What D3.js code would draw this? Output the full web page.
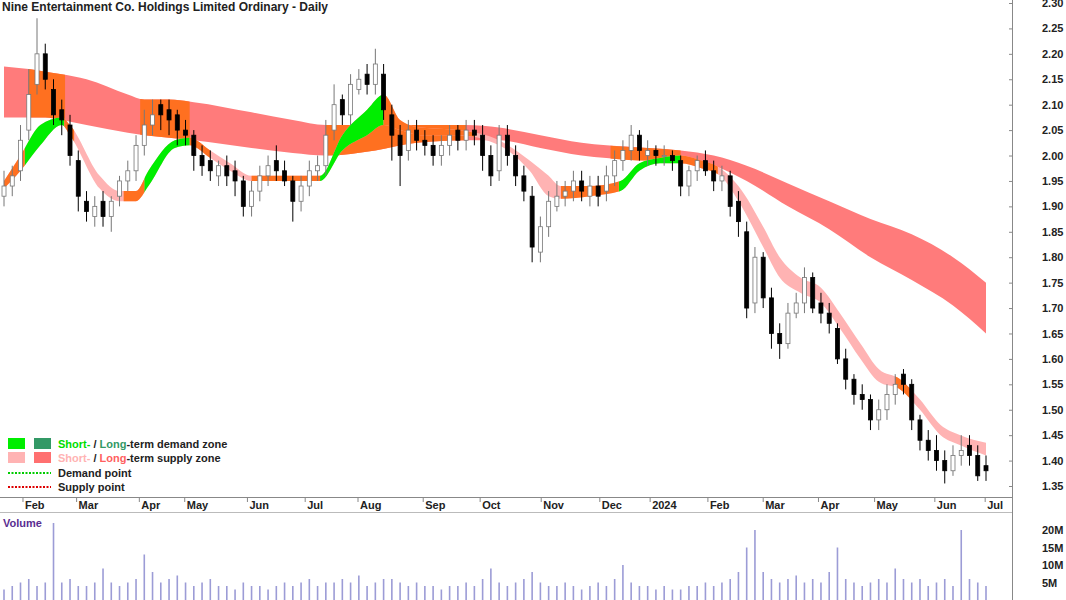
<!DOCTYPE html>
<html><head><meta charset="utf-8">
<script src="https://cdn.jsdelivr.net/npm/d3@7"></script>
<style>body{margin:0;background:#fff}text{font-family:"Liberation Sans",Arial,sans-serif}</style>
</head><body><svg id="c" width="1066" height="600"></svg>
<script>
const opens=[1.92,1.94,1.97,2.05,2.14,2.20,2.13,2.09,2.06,1.99,1.91,1.88,1.91,1.88,1.92,1.95,1.97,2.02,2.06,2.10,2.09,2.08,2.05,2.04,2.00,1.99,1.96,1.98,1.97,1.95,1.90,1.93,1.96,1.99,1.97,1.95,1.91,1.94,1.97,1.98,2.05,2.11,2.08,2.13,2.16,2.14,2.16,2.08,2.04,2.01,2.05,2.03,2.02,2.00,2.02,2.05,2.03,2.05,2.04,2.00,1.97,2.04,2.00,1.96,1.92,1.81,1.86,1.90,1.92,1.93,1.95,1.92,1.94,1.93,1.96,1.99,2.01,2.04,2.00,2.01,2.00,2.00,1.99,1.94,1.97,1.99,1.97,1.95,1.96,1.91,1.85,1.71,1.80,1.72,1.65,1.63,1.69,1.71,1.76,1.71,1.69,1.66,1.60,1.56,1.53,1.52,1.48,1.50,1.53,1.57,1.55,1.48,1.44,1.42,1.40,1.38,1.41,1.43,1.41,1.39];
const closes=[1.94,1.96,2.03,2.12,2.20,2.15,2.08,2.07,2.00,1.92,1.89,1.90,1.88,1.91,1.95,1.97,2.02,2.06,2.08,2.08,2.07,2.05,2.04,2.00,1.98,1.97,1.98,1.96,1.95,1.90,1.93,1.96,1.98,1.97,1.95,1.91,1.94,1.97,1.98,2.04,2.10,2.08,2.14,2.15,2.14,2.18,2.09,2.04,2.00,2.05,2.03,2.02,2.00,2.02,2.04,2.03,2.05,2.04,2.00,1.96,2.04,2.00,1.96,1.93,1.82,1.86,1.91,1.92,1.93,1.95,1.93,1.94,1.92,1.96,1.99,2.01,2.04,2.01,2.01,2.00,2.00,1.99,1.94,1.97,1.99,1.97,1.95,1.96,1.90,1.87,1.70,1.80,1.72,1.65,1.63,1.69,1.71,1.76,1.70,1.69,1.67,1.60,1.56,1.53,1.52,1.48,1.50,1.53,1.55,1.55,1.48,1.44,1.42,1.40,1.38,1.41,1.42,1.41,1.37,1.38];
const highs=[1.97,1.98,2.06,2.17,2.27,2.22,2.15,2.11,2.08,2.01,1.93,1.92,1.93,1.92,1.96,1.99,2.04,2.09,2.11,2.11,2.11,2.09,2.07,2.05,2.02,2.01,1.99,2.00,1.99,1.96,1.95,1.98,2.00,2.02,1.99,1.96,1.96,1.99,2.00,2.07,2.14,2.12,2.16,2.17,2.18,2.21,2.18,2.10,2.06,2.07,2.07,2.05,2.04,2.04,2.06,2.06,2.07,2.07,2.06,2.02,2.06,2.06,2.02,1.98,1.94,1.88,1.93,1.95,1.95,1.97,1.97,1.96,1.96,1.98,2.01,2.03,2.06,2.05,2.03,2.02,2.02,2.01,2.00,1.98,2.00,2.01,1.99,1.98,1.97,1.93,1.87,1.82,1.81,1.74,1.67,1.71,1.73,1.78,1.77,1.73,1.71,1.67,1.62,1.57,1.55,1.53,1.52,1.55,1.57,1.58,1.56,1.49,1.46,1.45,1.42,1.43,1.45,1.45,1.43,1.41];
const lows=[1.90,1.92,1.95,2.03,2.12,2.13,2.06,2.04,1.98,1.89,1.87,1.86,1.86,1.85,1.90,1.93,1.95,2.00,2.04,2.05,2.04,2.02,2.02,1.97,1.96,1.95,1.94,1.94,1.92,1.88,1.88,1.91,1.94,1.95,1.94,1.87,1.89,1.92,1.95,1.96,2.03,2.06,2.06,2.12,2.12,2.12,2.07,1.99,1.94,1.99,2.01,2.00,1.98,1.98,2.00,2.01,2.01,2.02,1.97,1.94,1.95,1.98,1.94,1.91,1.79,1.79,1.84,1.89,1.90,1.91,1.91,1.90,1.90,1.91,1.94,1.97,1.99,1.99,1.98,1.98,1.98,1.97,1.92,1.92,1.95,1.96,1.93,1.93,1.88,1.84,1.68,1.69,1.70,1.62,1.60,1.62,1.68,1.69,1.69,1.67,1.65,1.59,1.54,1.51,1.50,1.46,1.46,1.48,1.51,1.53,1.46,1.42,1.40,1.38,1.355,1.37,1.39,1.39,1.36,1.36];
const volumes=[3,4,5,6,4,5,22,5,6,4,4,5,9,5,4,5,6,13,8,5,6,7,5,4,5,6,4,4,3,5,4,4,3,4,5,4,5,6,4,5,5,6,5,7,4,5,6,6,5,4,5,4,4,3,4,4,5,4,6,9,5,4,5,6,8,5,4,4,5,4,3,4,5,4,6,10,5,4,4,3,4,3,3,4,4,5,4,5,6,8,15,20,8,6,5,6,7,5,6,5,8,15,6,5,4,5,6,5,9,6,5,6,4,5,6,4,20,6,5,4];
const monthLabels=["Feb","Mar","Apr","May","Jun","Jul","Aug","Sep","Oct","Nov","Dec","2024","Feb","Mar","Apr","May","Jun","Jul"];
const monthIdx=[2.3,8.8,16.4,21.9,29.5,36.5,42.9,50.8,57.7,65.1,72.2,78.3,85.3,92,98.7,105.5,112.8,118.9];
const priceTicks=[1.35,1.40,1.45,1.50,1.55,1.60,1.65,1.70,1.75,1.80,1.85,1.90,1.95,2.00,2.05,2.10,2.15,2.20,2.25,2.30];
const volTicks=[5,10,15,20];
const longIdx=[0,3,5,7,10,15,17,20,23,30,35,39,45,50,56,60,65,70,73,78,82,86,90,95,100,105,110,115,119];
const longUp=[2.175,2.17,2.165,2.16,2.15,2.12,2.11,2.11,2.105,2.085,2.07,2.06,2.06,2.06,2.06,2.055,2.04,2.025,2.02,2.015,2.01,2.0,1.98,1.945,1.91,1.875,1.845,1.80,1.75];
const longLo=[2.075,2.075,2.075,2.07,2.06,2.045,2.04,2.035,2.03,2.015,2.005,2.0,2.01,2.025,2.03,2.03,2.015,2.0,1.995,1.99,1.99,1.98,1.95,1.90,1.855,1.80,1.755,1.705,1.65];
const longOrange=[[3,7.4],[16.5,22.5],[39,56],[73.5,82]];
const shortIdx=[0,2,4.4,7,8,11.6,14,16,17.5,20.7,22.5,25,27.4,30,34,38.3,41,44,46,48,50.5,55,60,63.7,66,67.4,71,74.7,77,79.5,82,84.5,86.8,89,92,94,96.5,99,101.3,103.8,106,108.6,111,113.5,115.9,119];
const shortUp=[1.95,2.0,2.06,2.075,2.06,1.96,1.93,1.93,1.97,2.03,2.035,2.01,1.985,1.96,1.96,1.96,2.04,2.09,2.12,2.07,2.055,2.05,2.03,1.99,1.96,1.94,1.94,1.95,1.985,1.995,2.0,1.99,1.975,1.94,1.86,1.80,1.76,1.74,1.69,1.63,1.58,1.56,1.52,1.47,1.45,1.435];
const shortLo=[1.935,1.97,2.02,2.06,2.04,1.935,1.91,1.91,1.94,2.015,2.02,1.995,1.97,1.95,1.95,1.95,2.01,2.04,2.06,2.05,2.04,2.04,2.02,1.97,1.92,1.915,1.92,1.93,1.97,1.985,1.985,1.975,1.96,1.91,1.82,1.76,1.73,1.71,1.66,1.60,1.555,1.54,1.50,1.45,1.43,1.41];
const shortGreen=[[2.5,7.3],[17,22.5],[38.3,46],[74.5,82]];
const shortOrange=[[0,2.5],[7.3,8.5],[14.5,17],[22.5,25],[30,38.3],[46,57],[67.5,74.5],[82,86.5],[108,110]];

const svg=d3.select("#c");
const x=d3.scaleLinear().domain([0,119]).range([4,986]);
const y=d3.scaleLinear().domain([1.35,2.30]).range([486,3]);
const yv=d3.scaleLinear().domain([0,20]).range([600,530]);
const defs=svg.append("defs");
function clipFor(id,ranges){const c=defs.append("clipPath").attr("id",id);
  ranges.forEach(r=>c.append("rect").attr("x",x(r[0])).attr("width",x(r[1])-x(r[0])).attr("y",0).attr("height",500));return `url(#${id})`;}
const longData=longIdx.map((v,k)=>({i:v,u:longUp[k],l:longLo[k]}));
const shortData=shortIdx.map((v,k)=>({i:v,u:shortUp[k],l:shortLo[k]}));
const area=d3.area().curve(d3.curveMonotoneX).x(d=>x(d.i)).y0(d=>y(d.l)).y1(d=>y(d.u));
const g=svg.append("g");
g.append("path").attr("d",area(longData)).attr("fill","#ff7b7b");
g.append("path").attr("d",area(longData)).attr("fill","#ff7020").attr("clip-path",clipFor("lo",longOrange));
g.append("path").attr("d",area(shortData)).attr("fill","#ffb3b3");
g.append("path").attr("d",area(shortData)).attr("fill","#00ee00").attr("clip-path",clipFor("sg",shortGreen));
g.append("path").attr("d",area(shortData)).attr("fill","#ff7020").attr("clip-path",clipFor("so",shortOrange));
// candles
const cd=closes.map((c,i)=>({i,o:opens[i],c,h:highs[i],l:lows[i]}));
const cg=svg.append("g");
cd.forEach(d=>{
  const up=d.c>=d.o;
  cg.append("line").attr("x1",x(d.i)).attr("x2",x(d.i)).attr("y1",y(d.h)).attr("y2",y(d.l)).attr("stroke",up?"#777":"#000").attr("stroke-width",1);
  const t=y(Math.max(d.o,d.c)),b=y(Math.min(d.o,d.c));
  cg.append("rect").attr("x",x(d.i)-2).attr("width",4).attr("y",t).attr("height",Math.max(1,b-t))
    .attr("fill",up?"#fff":"#000").attr("stroke",up?"#777":"#000").attr("stroke-width",0.8);
});
// volume
svg.append("g").selectAll("rect").data(volumes.slice(0,120)).join("rect")
  .attr("x",(d,i)=>x(i)-0.8).attr("width",1.6).attr("y",d=>yv(d)).attr("height",d=>600-yv(d)).attr("fill","#9c9cd6");
// frame lines
svg.append("line").attr("x1",0).attr("x2",1012).attr("y1",497.5).attr("y2",497.5).attr("stroke","#888");
svg.append("line").attr("x1",0).attr("x2",1012).attr("y1",512.5).attr("y2",512.5).attr("stroke","#bbb");
svg.append("line").attr("x1",1012.5).attr("x2",1012.5).attr("y1",0).attr("y2",600).attr("stroke","#888");
// price axis
const pa=svg.append("g").attr("transform","translate(1012,0)").call(d3.axisRight(y).tickValues(priceTicks).tickFormat(d3.format(".2f")).tickSize(0).tickPadding(30));
pa.select(".domain").remove();
pa.selectAll("text").attr("font-size",11).attr("font-weight","bold").attr("fill","#222");
svg.append("g").attr("transform","translate(1012,0)").call(d3.axisLeft(y).tickValues(priceTicks).tickFormat("").tickSize(3)).call(s=>s.select(".domain").remove()).selectAll("line").attr("stroke","#888");
const va=svg.append("g").attr("transform","translate(1012,0)").call(d3.axisRight(yv).tickValues(volTicks).tickFormat(d=>d+"M").tickSize(0).tickPadding(30));
va.select(".domain").remove();
va.selectAll("text").attr("font-size",11).attr("font-weight","bold").attr("fill","#222");
// month axis
const ma=svg.append("g");
monthIdx.forEach((m,k)=>{
  ma.append("line").attr("x1",x(m)).attr("x2",x(m)).attr("y1",497).attr("y2",502).attr("stroke","#888");
  ma.append("text").attr("x",x(m)+2).attr("y",509).attr("font-size",11).attr("font-weight","bold").attr("fill","#222").text(monthLabels[k]);
});
svg.append("text").attr("x",2).attr("y",11).attr("font-size",12).attr("font-weight","bold").attr("fill","#222").text("Nine Entertainment Co. Holdings Limited Ordinary - Daily");
svg.append("text").attr("x",3).attr("y",527).attr("font-size",11).attr("font-weight","bold").attr("fill","#5a2d91").text("Volume");
// legend
const lg=svg.append("g").attr("font-size",11).attr("font-weight","bold");
lg.append("rect").attr("x",8).attr("y",438).attr("width",17).attr("height",11).attr("fill","#00ee00");
lg.append("rect").attr("x",34).attr("y",438).attr("width",17).attr("height",11).attr("fill","#339966");
lg.append("rect").attr("x",8).attr("y",452).attr("width",17).attr("height",11).attr("fill","#ffb3b3");
lg.append("rect").attr("x",34).attr("y",452).attr("width",17).attr("height",11).attr("fill","#ff7070");
const t1=lg.append("text").attr("x",58).attr("y",448);
t1.append("tspan").attr("fill","#00dd00").text("Short-");t1.append("tspan").attr("fill","#222").text(" / ");
t1.append("tspan").attr("fill","#339966").text("Long");t1.append("tspan").attr("fill","#222").text("-term demand zone");
const t2=lg.append("text").attr("x",58).attr("y",462);
t2.append("tspan").attr("fill","#ffb3b3").text("Short-");t2.append("tspan").attr("fill","#222").text(" / ");
t2.append("tspan").attr("fill","#ff6060").text("Long");t2.append("tspan").attr("fill","#222").text("-term supply zone");
lg.append("line").attr("x1",8).attr("x2",51).attr("y1",473).attr("y2",473).attr("stroke","#00cc00").attr("stroke-width",2).attr("stroke-dasharray","2,1.5");
lg.append("line").attr("x1",8).attr("x2",51).attr("y1",487).attr("y2",487).attr("stroke","#dd0000").attr("stroke-width",2).attr("stroke-dasharray","2,1.5");
lg.append("text").attr("x",58).attr("y",477).attr("fill","#222").text("Demand point");
lg.append("text").attr("x",58).attr("y",491).attr("fill","#222").text("Supply point");
</script></body></html>
